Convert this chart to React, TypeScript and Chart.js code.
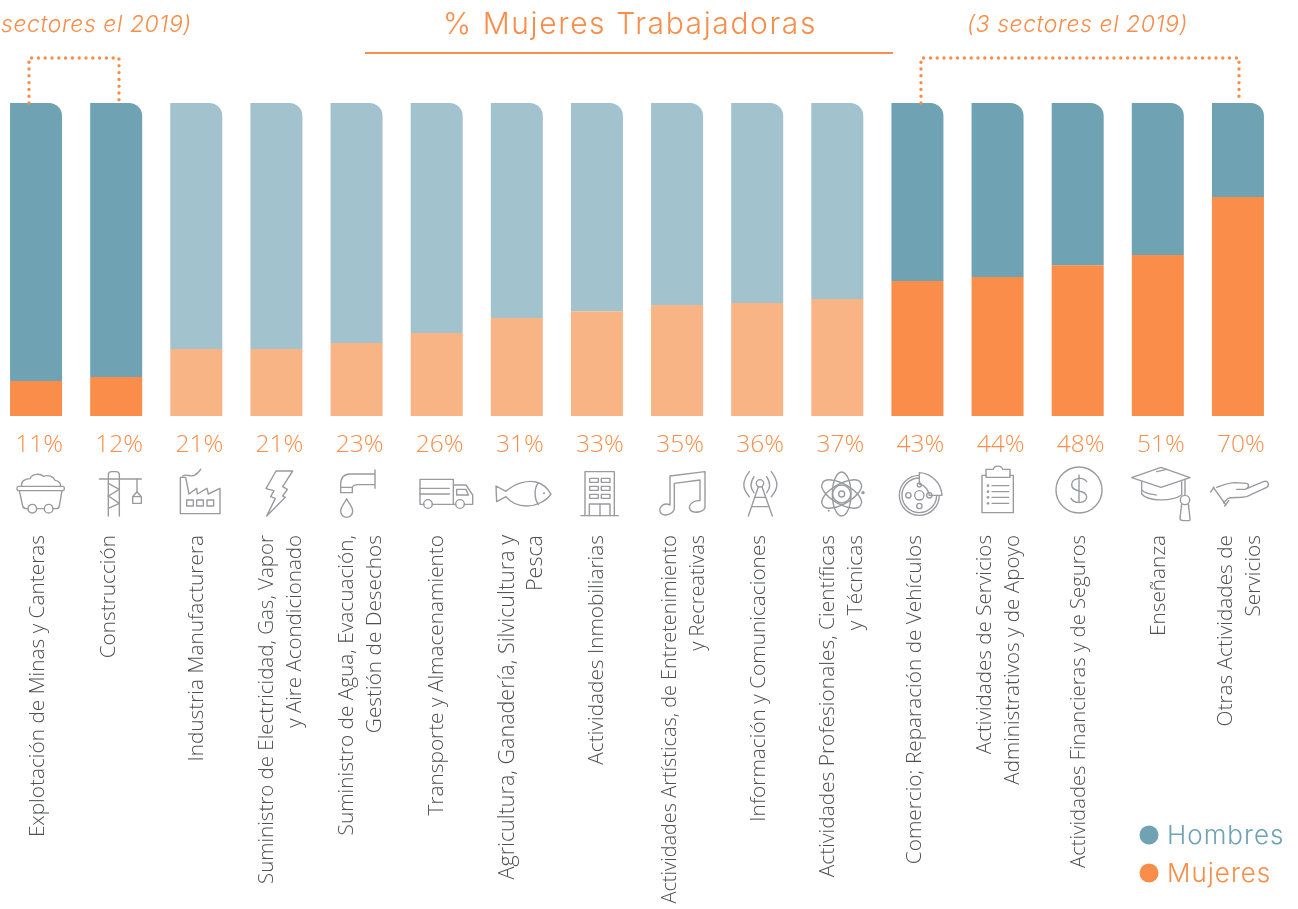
import React, { useEffect, useRef } from "react";
import { Chart, registerables } from "chart.js";

Chart.register(...registerables);

const categories: (string | string[])[] = [
  "Explotación de Minas y Canteras",
  "Construcción",
  "Industria Manufacturera",
  ["Suministro de Electricidad, Gas, Vapor", "y Aire Acondicionado"],
  ["Suministro de Agua, Evacuación,", "Gestión de Desechos"],
  "Transporte y Almacenamiento",
  ["Agricultura, Ganadería, Silvicultura y", "Pesca"],
  "Actividades Inmobiliarias",
  ["Actividades Artísticas, de Entretenimiento", "y Recreativas"],
  "Información y Comunicaciones",
  ["Actividades Profesionales, Científicas", "y Técnicas"],
  "Comercio; Reparación de Vehículos",
  ["Actividades de Servicios", "Administrativos y de Apoyo"],
  "Actividades Financieras y de Seguros",
  "Enseñanza",
  ["Otras Actividades de", "Servicios"],
];
const mujeres = [11.2, 12.5, 21.4, 21.4, 23.3, 26.5, 31.3, 33.5, 35.5, 36.1, 37.4, 43.1, 44.4, 48.2, 51.4, 70];
const hombres = [88.8, 87.5, 78.6, 78.6, 76.7, 73.5, 68.7, 66.5, 64.5, 63.9, 62.6, 56.9, 55.6, 51.8, 48.6, 30];
const pctLabels = ["11%", "12%", "21%", "21%", "23%", "26%", "31%", "33%", "35%", "36%", "37%", "43%", "44%", "48%", "51%", "70%"];
const mutedSectors = [2, 3, 4, 5, 6, 7, 8, 9, 10];
const tickNudge = [2, -7, 1, -9, -9, 0, -9, 0, -7, 2, -9, -2, -12, 2, 1, -12];
const tickSizes = [20.8, 20.8, 20.8, 20.5, 20.8, 20.8, 21.5, 20.8, 19.9, 20.8, 20.9, 20.8, 20.6, 20.3, 20.8, 20.8];

const TEAL = "#6fa3b4";
const TEAL_LIGHT = "#a2c3ce";
const ORANGE = "#f98d49";
const ORANGE_LIGHT = "#f8b484";
const GREY = "#9a9b9f";
const BODY_FONT = "'Open Sans', sans-serif";
const HEAD_FONT = "Inter, sans-serif";
const SHIFT = 20; // canvas starts left of the page so the first band can bleed

// Icon outlines, in a 3x local space; [originX, stroke paths, filled paths]
const icons: [number, string[], string[]][] = [
  [0, ["M55 349 H189 Q193 349 193 355 Q193 362 189 362 H55 Q51 362 51 355 Q51 349 55 349 Z",
    "M58 362 L68 408 Q70 416 80 416 H85 M109 416 H134 M158 416 H170 Q176 416 178 408 L186 362",
    "M110 416 A13 13 0 1 1 84 416 A13 13 0 1 1 110 416 Z", "M159 416 A13 13 0 1 1 133 416 A13 13 0 1 1 159 416 Z",
    "M65 349 C62 332 78 326 90 326 C96 311 120 309 130 319 C145 313 160 320 165 331 C178 333 182 340 182 349"], []],
  [0, ["M325 438 V315 Q325 305 335 305 H348 Q358 305 358 315 V438", "M298 327 H424",
    "M325 340 L358 358 L325 378 L358 400 L325 415", "M411 327 V367", "M398 400 V380 L411 365 L424 380 V400 Z", "M398 380 H424"], []],
  [0, ["M541 431 V322 H557 L567 372 L590 355 L592 372 L621 355 L625 372 L660 355 V431 Z",
    "M548 318 C560 310 570 322 582 316 C592 312 598 305 602 298",
    "M560 390 H580 V408 H560 Z", "M590 390 H610 V408 H590 Z", "M621 390 H641 V408 H621 Z"], []],
  [0, ["M828 303 H878 L848 350 L862 358 L848 378 L856 382 L800 438 L826 385 L812 380 L822 362 L798 356 Z"], []],
  [0, ["M1125 300 V355 M1125 312 H1050 C1030 312 1022 325 1022 345 V368 H1057 V352 C1060 345 1068 344 1075 344 H1125", "M1022 352 H1057",
    "M1040 386 C1034 400 1022 410 1022 424 A18 18 0 0 0 1058 424 C1058 410 1046 400 1040 386 Z"], []],
  [430, ["M-18 403 H-30 V328 H70 V403 H77 M70 345 H108 L128 375 V403 H103 M7 403 H77", "M80 358 H108 L115 375 H80 Z", "M-30 355 H58 M-30 372 H58",
    "M103 402 A13 13 0 1 1 77 402 A13 13 0 1 1 103 402 Z", "M7 402 A13 13 0 1 1 -19 402 A13 13 0 1 1 7 402 Z"], []],
  [430, ["M198 348 L228 364 C255 340 290 330 318 336 C340 342 355 358 363 372 C350 392 320 408 290 408 C262 408 240 395 228 380 L200 395 Z",
    "M325 338 C312 355 312 385 325 403"], ["M345 370 A3 3 0 1 1 339 370 A3 3 0 1 1 345 370 Z"]],
  [430, ["M465 437 V305 H553 V437", "M453 437 H565", "M478 437 V402 H540 V437 M510 402 V437",
    "M479 325 H505 V337 H479 Z", "M514 325 H540 V337 H514 Z", "M479 349 H505 V361 H479 Z", "M514 349 H540 V361 H514 Z", "M479 373 H505 V385 H479 Z", "M514 373 H540 V385 H514 Z"], []],
  [430, ["M720 405 V318 L825 305 V410 C825 425 795 432 782 422 C772 410 785 390 810 392 V330 L733 340 V415 C733 430 705 442 693 430 C682 415 700 395 720 405"], []],
  [430, ["M1001 340 A11 11 0 1 1 979 340 A11 11 0 1 1 1001 340 Z", "M985 350 L955 438 M996 350 L1027 438 M975 382 H1007 M965 410 H1018",
    "M958 305 C936 335 936 355 958 380", "M972 320 C960 340 960 352 972 368", "M1024 305 C1046 335 1046 355 1024 380", "M1010 320 C1022 340 1022 352 1010 368"], []],
  [430, ["M1235 306 A28 66 0 1 0 1235 438 A28 66 0 1 0 1235 306 Z", "M1178 339 A66 28 30 1 0 1292 405 A66 28 30 1 0 1178 339 Z", "M1178 405 A66 28 -30 1 0 1292 339 A66 28 -30 1 0 1178 405 Z",
    "M1244 372 A9 9 0 1 1 1226 372 A9 9 0 1 1 1244 372 Z", "M1262 372 A27 27 0 1 1 1208 372 A27 27 0 1 1 1262 372 Z"],
    ["M1304 368 A5 5 0 1 1 1294 368 A5 5 0 1 1 1304 368 Z", "M1199 422 A3 3 0 1 1 1193 422 A3 3 0 1 1 1199 422 Z"]],
  [870, ["M208 376 A60 60 0 1 1 148 316", "M200 376 A52 52 0 1 1 148 324", "M148 308 C185 310 214 340 216 376 H178 C176 362 165 345 148 342 Z",
    "M162 376 A14 14 0 1 1 134 376 A14 14 0 1 1 162 376 Z", "M123 376 A8 8 0 1 1 107 376 A8 8 0 1 1 123 376 Z", "M156 408 A8 8 0 1 1 140 408 A8 8 0 1 1 156 408 Z", "M186 376 A8 8 0 1 1 170 376 A8 8 0 1 1 186 376 Z", "M154 345 A6 6 0 1 1 142 345 A6 6 0 1 1 154 345 Z"], []],
  [870, ["M348 316 H336 V428 H430 V316 H420", "M348 322 V298 H370 C372 285 395 285 398 298 H420 V322 Z",
    "M366 347 H416 M366 365 H416 M366 382 H416 M366 400 H416"],
    ["M358 347 A4 4 0 1 1 350 347 A4 4 0 1 1 358 347 Z", "M358 365 A4 4 0 1 1 350 365 A4 4 0 1 1 358 365 Z", "M358 382 A4 4 0 1 1 350 382 A4 4 0 1 1 358 382 Z", "M358 400 A4 4 0 1 1 350 400 A4 4 0 1 1 358 400 Z"]],
  [870, ["M696 360 A69 69 0 1 1 558 360 A69 69 0 1 1 696 360 Z", "M650 335 C640 320 605 322 605 345 C605 368 650 358 650 380 C650 402 612 402 603 385 M627 315 V398"], []],
  [870, ["M785 323 L873 292 L960 323 L873 352 Z", "M815 335 V372 C835 395 905 395 935 375 V335", "M818 362 C830 372 845 372 858 375", "M860 305 L890 298", "M945 328 V376",
    "M959 390 A14 14 0 1 1 931 390 A14 14 0 1 1 959 390 Z", "M935 402 L930 445 Q930 452 940 452 H955 Q962 452 960 445 L955 402"], []],
  [870, ["M1040 352 C1060 345 1075 338 1095 338 L1130 340 C1138 342 1138 355 1125 358 L1100 358 M1125 358 L1180 335 C1195 330 1200 345 1190 352 L1130 380 C1110 385 1085 380 1075 385 L1060 398",
    "M1022 366 L1032 352 M1030 352 L1068 405 M1064 408 L1076 392"], []],
];

function isMuted(i: number) {
  return mutedSectors.includes(i);
}

const annotations = {
  id: "annotations",
  afterDraw(chart: any) {
    const ctx: CanvasRenderingContext2D = chart.ctx;
    const xs = chart.scales.x;

    ctx.save();
    ctx.translate(SHIFT, 0);
    // percent row
    ctx.fillStyle = ORANGE;
    ctx.font = `300 24.5px ${BODY_FONT}`;
    ctx.textAlign = "center";
    ctx.textBaseline = "alphabetic";
    pctLabels.forEach((t, i) => ctx.fillText(t, xs.getPixelForValue(i) - SHIFT + 3, 451.5));

    // icons
    icons.forEach(([ox, strokes, fills]) => {
      ctx.save();
      ctx.translate(ox, 370);
      ctx.scale(1 / 3, 1 / 3);
      ctx.strokeStyle = GREY;
      ctx.fillStyle = GREY;
      ctx.lineWidth = 4.2;
      ctx.lineJoin = "round";
      ctx.lineCap = "round";
      strokes.forEach((d) => ctx.stroke(new Path2D(d)));
      fills.forEach((d) => ctx.fill(new Path2D(d)));
      ctx.restore();
    });

    // title
    ctx.fillStyle = ORANGE;
    ctx.textAlign = "center";
    ctx.font = `300 30px ${HEAD_FONT}`;
    (ctx as any).letterSpacing = "1.6px";
    ctx.fillText("% Mujeres Trabajadoras", 630, 33.5);
    (ctx as any).letterSpacing = "0px";
    ctx.strokeStyle = ORANGE;
    ctx.lineWidth = 2;
    ctx.beginPath();
    ctx.moveTo(365, 53);
    ctx.lineTo(893, 53);
    ctx.stroke();

    // side notes
    ctx.font = `italic 300 23px ${HEAD_FONT}`;
    ctx.textAlign = "left";
    (ctx as any).letterSpacing = "0.55px";
    ctx.fillText("sectores el 2019)", 1, 32);
    ctx.fillText("(3 sectores el 2019)", 967, 32);
    (ctx as any).letterSpacing = "0px";

    // dotted brackets
    ctx.lineWidth = 3.4;
    ctx.lineCap = "round";
    ctx.setLineDash([0, 6.8]);
    ctx.beginPath();
    ctx.moveTo(29, 103);
    ctx.lineTo(29, 58);
    ctx.lineTo(119, 58);
    ctx.lineTo(119, 103);
    ctx.moveTo(921, 103);
    ctx.lineTo(921, 58);
    ctx.lineTo(1239, 58);
    ctx.lineTo(1239, 103);
    ctx.stroke();
    ctx.setLineDash([]);

    // legend
    ctx.font = `300 26px ${HEAD_FONT}`;
    (ctx as any).letterSpacing = "1px";
    const legendRows: [number, number][] = [
      [1, 835],
      [0, 873],
    ];
    legendRows.forEach(([di, y]) => {
      const ds = chart.data.datasets[di];
      ctx.fillStyle = ds.legendColor;
      ctx.beginPath();
      ctx.arc(1149, y, 9.5, 0, Math.PI * 2);
      ctx.fill();
      ctx.fillText(ds.label, 1167, y + 9);
    });
    (ctx as any).letterSpacing = "0px";
    ctx.restore();
  },
};

export default function App() {
  const ref = useRef<HTMLCanvasElement>(null);
  useEffect(() => {
    const chart = new Chart(ref.current!, {
      type: "bar",
      data: {
        labels: categories as any,
        datasets: [
          {
            label: "Mujeres",
            data: mujeres,
            stack: "s",
            legendColor: ORANGE,
            backgroundColor: (c: any) => (isMuted(c.dataIndex) ? ORANGE_LIGHT : ORANGE),
          } as any,
          {
            label: "Hombres",
            data: hombres,
            stack: "s",
            legendColor: TEAL,
            backgroundColor: (c: any) => (isMuted(c.dataIndex) ? TEAL_LIGHT : TEAL),
            borderRadius: { topRight: 13, topLeft: 0, bottomLeft: 0, bottomRight: 0 },
            borderSkipped: false,
          } as any,
        ],
      },
      options: {
        responsive: false,
        animation: false,
        layout: { autoPadding: false, padding: { left: SHIFT - 4, right: SHIFT, top: 103, bottom: 0 } },
        datasets: { bar: { categoryPercentage: 1, barPercentage: 0.649 } },
        plugins: { legend: { display: false }, title: { display: false }, tooltip: { enabled: false } },
        scales: {
          x: {
            stacked: true,
            grid: { display: false, drawTicks: false },
            border: { display: false },
            afterFit: (s: any) => {
              s.height = 493;
              s.paddingLeft = 0;
              s.paddingRight = 0;
              if (!s._nudged) {
                s._nudged = true;
                const compute = s._computeLabelItems;
                s._computeLabelItems = function (area: any) {
                  const items = compute.call(this, area);
                  items.forEach((it: any, i: number) => {
                    it.options.translation = [it.options.translation[0] + (tickNudge[i] || 0), it.options.translation[1]];
                  });
                  return items;
                };
              }
            },
            ticks: {
              autoSkip: false,
              minRotation: 90,
              maxRotation: 90,
              padding: 119,
              color: "#4f5052",
              font: (c: any) => ({ family: BODY_FONT, size: tickSizes[c.index] ?? 20.8, weight: "300", lineHeight: 28 / (tickSizes[c.index] ?? 20.8) }),
            },
          },
          y: { stacked: true, display: false, min: 0, max: 100 },
        },
      } as any,
      plugins: [annotations],
    });
    return () => chart.destroy();
  }, []);
  return (
    <canvas
      ref={ref}
      width={1298 + SHIFT}
      height={909}
      style={{ position: "fixed", left: -SHIFT, top: 0, width: 1298 + SHIFT, height: 909, display: "block" }}
    />
  );
}
